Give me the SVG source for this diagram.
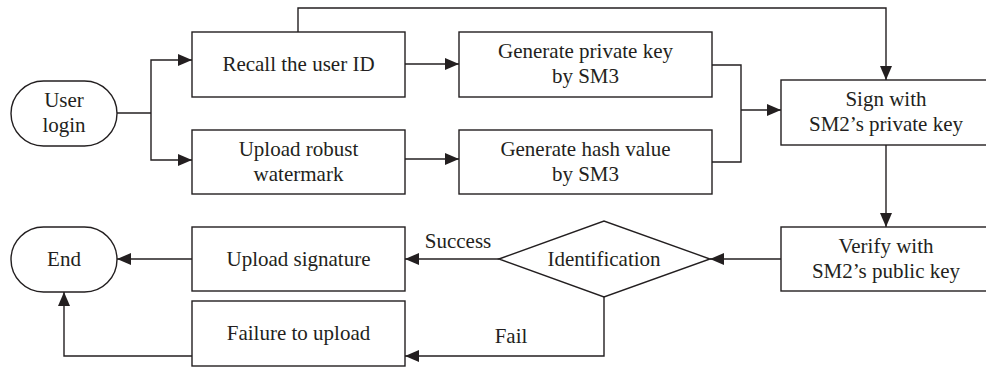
<svg xmlns="http://www.w3.org/2000/svg" width="986" height="370" viewBox="0 0 986 370">
<defs>
<style>
.box{fill:#fff;stroke:#231f20;stroke-width:1.4}
.ln{fill:none;stroke:#231f20;stroke-width:1.4}
text{font-family:'Liberation Serif','DejaVu Serif',serif;font-size:21px;fill:#231f20;text-anchor:middle}
</style>
<marker id="ah" markerUnits="userSpaceOnUse" markerWidth="15" markerHeight="12" refX="14" refY="6" orient="auto">
<path d="M0,0 L14,6 L0,12 z" fill="#231f20"/>
</marker>
</defs>
<rect width="986" height="370" fill="#fff"/>
<g id="connectors">
<path class="ln" d="M117,113 H151"/>
<path class="ln" d="M151,113 V60 H192" marker-end="url(#ah)"/>
<path class="ln" d="M151,113 V160 H192" marker-end="url(#ah)"/>
<path class="ln" d="M405,64 H459" marker-end="url(#ah)"/>
<path class="ln" d="M405,159 H459" marker-end="url(#ah)"/>
<path class="ln" d="M298,32 V8 H886 V80" marker-end="url(#ah)"/>
<path class="ln" d="M712,65 H741 V162 H712"/>
<path class="ln" d="M741,110 H781" marker-end="url(#ah)"/>
<path class="ln" d="M886,145 V227" marker-end="url(#ah)"/>
<path class="ln" d="M781,259 H710" marker-end="url(#ah)"/>
<path class="ln" d="M499,259 H405" marker-end="url(#ah)"/>
<path class="ln" d="M192,259 H117" marker-end="url(#ah)"/>
<path class="ln" d="M604,297 V356 H405" marker-end="url(#ah)"/>
<path class="ln" d="M192,356 H64 V292" marker-end="url(#ah)"/>
<text x="458" y="248">Success</text>
<text x="511" y="343">Fail</text>
</g>
<g id="user-login">
<rect class="box" x="11" y="81" width="106" height="65" rx="32.5" ry="32.5"/>
<text x="64" y="107">User</text>
<text x="64" y="132">login</text>
</g>
<g id="recall">
<rect class="box" x="192" y="32" width="213" height="65"/>
<text x="298.5" y="71">Recall the user ID</text>
</g>
<g id="upload-watermark">
<rect class="box" x="192" y="130" width="213" height="64"/>
<text x="298.5" y="156">Upload robust</text>
<text x="298.5" y="181">watermark</text>
</g>
<g id="gen-private">
<rect class="box" x="459" y="32" width="253" height="65"/>
<text x="585.5" y="58">Generate private key</text>
<text x="585.5" y="83">by SM3</text>
</g>
<g id="gen-hash">
<rect class="box" x="459" y="130" width="253" height="64"/>
<text x="585.5" y="156">Generate hash value</text>
<text x="585.5" y="181">by SM3</text>
</g>
<g id="sign">
<rect class="box" x="781" y="80" width="210" height="65"/>
<text x="886" y="106">Sign with</text>
<text x="886" y="131">SM2’s private key</text>
</g>
<g id="verify">
<rect class="box" x="781" y="227" width="210" height="64"/>
<text x="886" y="253">Verify with</text>
<text x="886" y="278">SM2’s public key</text>
</g>
<g id="identification">
<polygon class="box" points="499,259 604,221 710,259 604,297"/>
<text x="604" y="266">Identification</text>
</g>
<g id="upload-signature">
<rect class="box" x="192" y="227" width="213" height="64"/>
<text x="298.5" y="266">Upload signature</text>
</g>
<g id="failure">
<rect class="box" x="192" y="301" width="213" height="65"/>
<text x="298.5" y="340">Failure to upload</text>
</g>
<g id="end">
<rect class="box" x="11" y="227" width="106" height="65" rx="32.5" ry="32.5"/>
<text x="64" y="266">End</text>
</g>
</svg>
